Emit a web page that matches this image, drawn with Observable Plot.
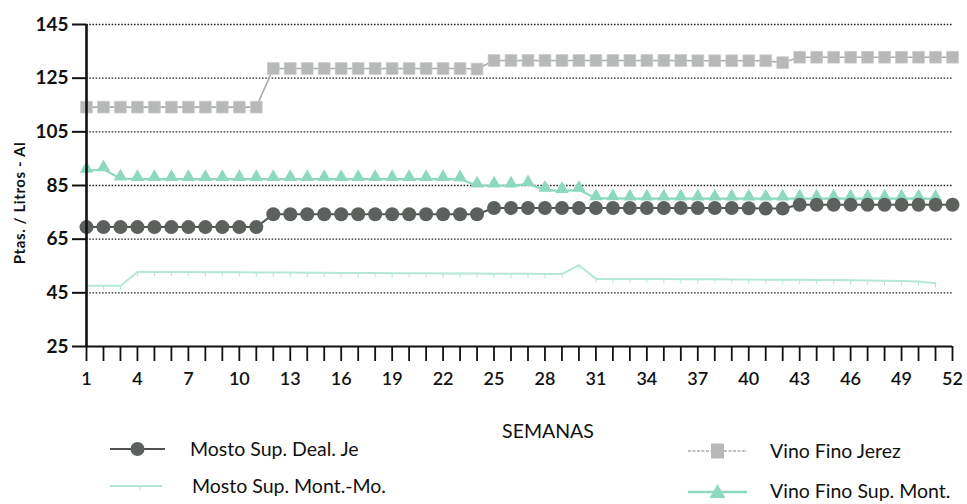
<!DOCTYPE html>
<html><head><meta charset="utf-8">
<script src="https://cdn.jsdelivr.net/npm/d3@7"></script>
<script src="https://cdn.jsdelivr.net/npm/@observablehq/plot@0.6"></script>
<style>
body{margin:0;background:#fff;font-family:Lato,"Open Sans",sans-serif;}
#wrap{position:relative;width:967px;height:504px;overflow:hidden;background:#fff;}
.lab{position:absolute;font-size:19.5px;color:#111;white-space:nowrap;line-height:1;}
.sw{position:absolute;}
</style></head><body><div id="wrap"></div>
<script>
const weeks = [1,2,3,4,5,6,7,8,9,10,11,12,13,14,15,16,17,18,19,20,21,22,23,24,25,26,27,28,29,30,31,32,33,34,35,36,37,38,39,40,41,42,43,44,45,46,47,48,49,50,51,52];
const xTickLabels = [1,4,7,10,13,16,19,22,25,28,31,34,37,40,43,46,49,52];
const yTicks = [25,45,65,85,105,125,145];
const gridValues = [45,65,85,105,125,145];

const mostoDeal = [69.5,69.5,69.5,69.5,69.5,69.5,69.5,69.5,69.5,69.5,69.5,
  74.3,74.3,74.3,74.3,74.3,74.3,74.3,74.3,74.3,74.3,74.3,74.3,74.3,
  76.6,76.6,76.6,76.6,76.6,76.6,76.6,76.6,76.6,76.6,76.6,76.6,76.6,76.6,76.6,76.5,76.4,76.4,
  77.8,77.8,77.8,77.8,77.8,77.8,77.8,77.8,77.8,77.8];
const mostoMont = [47.6,47.6,47.6,52.8,52.8,52.8,52.8,52.7,52.7,52.7,52.6,52.6,52.6,52.5,52.5,
  52.4,52.4,52.4,52.3,52.3,52.3,52.2,52.2,52.2,52.1,52.1,52.1,52.0,52.0,55.3,
  50.2,50.2,50.2,50.2,50.2,50.1,50.1,50.1,50.0,50.0,49.9,49.9,49.9,49.8,49.8,49.7,49.6,49.5,49.4,49.2,48.6,null];
const vinoJerez = [114.2,114.2,114.2,114.2,114.2,114.2,114.2,114.2,114.2,114.2,114.2,
  128.6,128.6,128.6,128.6,128.6,128.6,128.6,128.6,128.6,128.6,128.6,128.6,128.4,
  131.6,131.6,131.6,131.6,131.6,131.6,131.6,131.6,131.6,131.6,131.6,131.6,131.5,131.5,131.5,131.5,131.5,130.8,
  132.8,132.8,132.8,132.8,132.8,132.8,132.8,132.8,132.8,132.8];
const vinoMont = [90.5,91.0,87.6,87.4,87.4,87.4,87.4,87.4,87.4,87.4,87.4,87.4,87.4,87.4,87.4,87.4,87.4,87.4,87.4,87.4,87.4,87.4,87.3,
  85.0,85.0,85.0,85.5,83.4,82.9,83.4,
  80.2,80.2,80.1,80.1,80.1,80.1,80.1,80.1,80.1,80.1,80.1,80.1,80.1,80.1,80.1,80.1,80.1,80.1,80.1,80.1,80.0,null];

const seriesNames = ["Mosto Sup. Deal. Je","Mosto Sup. Mont.-Mo.","Vino Fino Jerez","Vino Fino Sup. Mont."];
const seriesColors = ["#5c615e","#b4e7d8","#b7b9b8","#8dd9bf"];

const toRows = (vals) => weeks.map((w,i)=>({week:w, value:vals[i]})).filter(d=>d.value!=null);
const rDeal = toRows(mostoDeal), rMont = toRows(mostoMont), rJerez = toRows(vinoJerez), rVMont = toRows(vinoMont);

const chart = Plot.plot({
  width: 967, height: 400,
  marginTop: 24, marginBottom: 54, marginLeft: 86, marginRight: 15,
  style: {fontFamily: "Lato, 'Open Sans', sans-serif", background: "#fff", color: "#111"},
  x: {domain: [1,52]},
  y: {domain: [25,145]},
  marks: [
    Plot.ruleY(gridValues, {stroke: "#111", strokeWidth: 1.4, strokeDasharray: "1.6,1.6", strokeOpacity: 0.9}),
    // Mosto Sup. Mont.-Mo.
    Plot.line(rMont, {x: "week", y: "value", stroke: seriesColors[1], strokeWidth: 2}),
    Plot.ruleX(rMont, {x: "week", y1: "value", y2: d => d.value - 1.8, stroke: seriesColors[1], strokeWidth: 1}),
    // Vino Fino Jerez
    Plot.line(rJerez, {x: "week", y: "value", stroke: "#a9abaa", strokeWidth: 1.6}),
    Plot.dot(rJerez, {x: "week", y: "value", symbol: "square", r: 6.6, fill: seriesColors[2], stroke: "#c6c8c7", strokeWidth: 0.8}),
    // Vino Fino Sup. Mont.
    Plot.line(rVMont, {x: "week", y: "value", stroke: seriesColors[3], strokeWidth: 2.2}),
    Plot.dot(rVMont, {x: "week", y: "value", symbol: "triangle", r: 5, fill: seriesColors[3], dy: -2}),
    // Mosto Sup. Deal. Je
    Plot.line(rDeal, {x: "week", y: "value", stroke: "#4f5451", strokeWidth: 2}),
    Plot.dot(rDeal, {x: "week", y: "value", r: 7, fill: seriesColors[0]}),
    // axes
    Plot.axisY({ticks: yTicks, tickSize: 14, tickPadding: 4, fontSize: 19, fontWeight: 700, label: null, strokeWidth: 2}),
    Plot.axisX({ticks: weeks, tickSize: 15, tickPadding: 11, fontSize: 18, fontWeight: 600,
      tickFormat: d => xTickLabels.includes(d) ? String(d) : "", label: null, strokeWidth: 1.8}),
    Plot.ruleX([1], {stroke: "#111", strokeWidth: 2.6}),
    Plot.ruleY([25], {stroke: "#111", strokeWidth: 2.2})
  ]
});
const wrap = document.getElementById("wrap");
wrap.appendChild(chart);

function addLabel(text, left, top, extra) {
  const d = document.createElement("div");
  d.className = "lab"; d.textContent = text;
  d.style.left = left + "px"; d.style.top = top + "px";
  if (extra) Object.assign(d.style, extra);
  wrap.appendChild(d);
  return d;
}
// y axis title
addLabel("Ptas. / Litros - Al", 19, 203, {fontSize: "15px", fontWeight: "700", letterSpacing: "0.6px", transform: "translate(-50%,-50%) rotate(-90deg)"});
// x axis title
addLabel("SEMANAS", 548, 431, {transform: "translate(-50%,-50%)"});

// legend
const legendPos = [
  {x0: 110, x1: 165, y: 449, tx: 190},
  {x0: 110, x1: 162, y: 486, tx: 192},
  {x0: 688, x1: 747, y: 451, tx: 770},
  {x0: 688, x1: 747, y: 491, tx: 770}
];
legendPos.forEach((p, i) => {
  const svg = d3.create("svg").attr("class","sw")
    .attr("width", p.x1 - p.x0 + 4).attr("height", 22)
    .style("left", (p.x0 - 2) + "px").style("top", (p.y - 11) + "px");
  const cx = (p.x1 - p.x0) / 2 + 2;
  if (i === 0) {
    svg.append("line").attr("x1",2).attr("x2",p.x1-p.x0+2).attr("y1",11).attr("y2",11).attr("stroke","#4f5451").attr("stroke-width",2);
    svg.append("circle").attr("cx",cx).attr("cy",11).attr("r",7).attr("fill",seriesColors[0]);
  } else if (i === 1) {
    svg.append("line").attr("x1",2).attr("x2",p.x1-p.x0+2).attr("y1",11).attr("y2",11).attr("stroke",seriesColors[1]).attr("stroke-width",2);
    svg.append("line").attr("x1",cx+4).attr("x2",cx+4).attr("y1",11).attr("y2",16).attr("stroke",seriesColors[1]).attr("stroke-width",1);
  } else if (i === 2) {
    svg.append("line").attr("x1",2).attr("x2",p.x1-p.x0+2).attr("y1",11).attr("y2",11).attr("stroke","#a9abaa").attr("stroke-width",1.6).attr("stroke-dasharray","3,1.5");
    svg.append("rect").attr("x",cx-6.5).attr("y",3.5).attr("width",13).attr("height",15).attr("fill",seriesColors[2]);
  } else {
    svg.append("line").attr("x1",2).attr("x2",p.x1-p.x0+2).attr("y1",12).attr("y2",12).attr("stroke",seriesColors[3]).attr("stroke-width",2.4);
    svg.append("path").attr("d",`M${cx},4 L${cx+8},18 L${cx-8},18 Z`).attr("fill",seriesColors[3]);
  }
  wrap.appendChild(svg.node());
  addLabel(seriesNames[i], p.tx, p.y, {transform: "translateY(-50%)"});
});
</script>
</body></html>
